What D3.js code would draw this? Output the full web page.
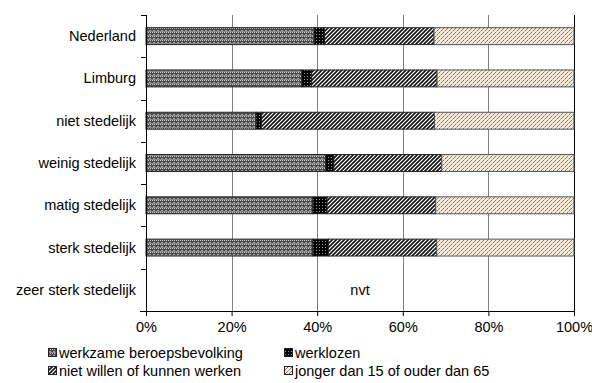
<!DOCTYPE html>
<html><head><meta charset="utf-8">
<script src="https://cdn.jsdelivr.net/npm/d3@7/dist/d3.min.js"></script>
<style>body{margin:0;background:#fff}svg{display:block}text{font-family:"Liberation Sans",Arial,sans-serif}</style>
</head><body><svg id="c" width="592" height="383"></svg>
<script>
const categories=["Nederland","Limburg","niet stedelijk","weinig stedelijk","matig stedelijk","sterk stedelijk","zeer sterk stedelijk"];
const seriesNames=["werkzame beroepsbevolking","werklozen","niet willen of kunnen werken","jonger dan 15 of ouder dan 65"];
const werkzame=[39.3,36.4,25.7,42.0,39.0,39.0,null];
const werklozen=[2.4,2.3,1.3,1.9,3.3,3.6,null];
const nietWillen=[25.6,29.3,40.4,25.2,25.4,25.3,null];
const jonger=[32.7,32.0,32.6,30.9,32.3,32.1,null];
const xTicks=[0,20,40,60,80,100];
const naLabel="nvt";

const FS=14.5;
const svg=d3.select("#c");
const m={l:146,r:18,t:15,b:72};
const W=592,H=383;
const x=d3.scaleLinear().domain([0,100]).range([m.l,W-m.r]);
const y=d3.scaleBand().domain(categories).range([m.t,H-m.b]).paddingInner(0.6).paddingOuter(0.3);
const yb=d3.scaleBand().domain(categories).range([m.t,H-m.b]);

const defs=svg.append("defs");
let p=defs.append("pattern").attr("id","p0").attr("patternUnits","userSpaceOnUse").attr("width",4).attr("height",4);
p.append("rect").attr("width",4).attr("height",4).attr("fill","#4a4a4a");
p.append("rect").attr("x",0).attr("y",0).attr("width",1).attr("height",1).attr("fill","#d0d0d0");
p.append("rect").attr("x",2).attr("y",0).attr("width",1).attr("height",1).attr("fill","#d0d0d0");
p.append("rect").attr("x",1).attr("y",2).attr("width",2).attr("height",1).attr("fill","#a0a0a0");
p.append("rect").attr("x",0).attr("y",3).attr("width",4).attr("height",1).attr("fill","#8a8a8a");
p=defs.append("pattern").attr("id","p1").attr("patternUnits","userSpaceOnUse").attr("width",3).attr("height",3);
p.append("rect").attr("width",3).attr("height",3).attr("fill","#000");
p.append("rect").attr("x",1).attr("y",1).attr("width",1).attr("height",1).attr("fill","#999");
p=defs.append("pattern").attr("id","p2").attr("patternUnits","userSpaceOnUse").attr("width",4).attr("height",4);
p.append("rect").attr("width",4).attr("height",4).attr("fill","#fff");
p.append("path").attr("d","M-1,5 L5,-1 M-1,1 L1,-1 M3,5 L5,3").attr("stroke","#111").attr("stroke-width",1.6);
p=defs.append("pattern").attr("id","p3").attr("patternUnits","userSpaceOnUse").attr("width",4).attr("height",4);
p.append("rect").attr("width",4).attr("height",4).attr("fill","#f2ebe2");
p.append("rect").attr("x",3).attr("y",0).attr("width",1).attr("height",1).attr("fill","#8c6a48");
p.append("rect").attr("x",2).attr("y",1).attr("width",1).attr("height",1).attr("fill","#a88662");
p.append("rect").attr("x",1).attr("y",2).attr("width",1).attr("height",1).attr("fill","#8c6a48");
p.append("rect").attr("x",0).attr("y",3).attr("width",1).attr("height",1).attr("fill","#c9b296");

// gridlines
svg.append("g").selectAll("line").data(xTicks.slice(1)).join("line")
 .attr("x1",d=>Math.round(x(d))+0.5).attr("x2",d=>Math.round(x(d))+0.5).attr("y1",m.t).attr("y2",H-m.b)
 .attr("stroke",d=>d===100?"#000":"#808080").attr("stroke-width",1);

// bars
const data=categories.map((c,i)=>({cat:c,werkzame:werkzame[i],werklozen:werklozen[i],nietWillen:nietWillen[i],jonger:jonger[i]}));
const keys=["werkzame","werklozen","nietWillen","jonger"];
const stacked=d3.stack().keys(keys).value((d,k)=>d[k]==null?0:d[k])(data);
stacked.forEach((s,si)=>{
  svg.append("g").selectAll("rect").data(s.filter(d=>d.data.werkzame!=null)).join("rect")
   .attr("x",d=>x(d[0])).attr("width",d=>x(d[1])-x(d[0]))
   .attr("y",d=>y(d.data.cat)).attr("height",y.bandwidth())
   .attr("fill",`url(#p${si})`).attr("stroke",si===3?"#555":"#222").attr("stroke-width",1);
});

// nvt label
data.filter(d=>d.werkzame==null).forEach(d=>{
  svg.append("text").attr("x",x(50)).attr("y",y(d.cat)+y.bandwidth()/2+5).attr("text-anchor","middle")
   .attr("font-size",FS).text(naLabel);
});

// axes
const ax=svg.append("g").attr("transform",`translate(0,${H-m.b})`)
 .call(d3.axisBottom(x).tickValues(xTicks).tickFormat(d=>d+"%").tickSize(5).tickPadding(6));
ax.select(".domain").remove();
ax.selectAll("line").attr("stroke","#000");
ax.selectAll("text").attr("font-size",FS).attr("fill","#000").style("font-family","Liberation Sans, Arial, sans-serif");
svg.append("line").attr("x1",m.l-6).attr("x2",x(100)).attr("y1",H-m.b+0.5).attr("y2",H-m.b+0.5).attr("stroke","#000");

svg.append("line").attr("x1",m.l+0.5).attr("x2",m.l+0.5).attr("y1",m.t).attr("y2",H-m.b).attr("stroke","#000");
svg.append("g").selectAll("line").data(categories).join("line")
 .attr("x1",m.l-5).attr("x2",m.l).attr("y1",d=>Math.round(yb(d))+0.5).attr("y2",d=>Math.round(yb(d))+0.5).attr("stroke","#000");
svg.append("g").selectAll("text").data(categories).join("text")
 .attr("x",m.l-10).attr("y",d=>yb(d)+yb.bandwidth()/2+5).attr("text-anchor","end").attr("font-size",FS).text(d=>d);

// legend
const lg=[{x:48,y:353},{x:284,y:353},{x:48,y:371},{x:284,y:371}];
seriesNames.forEach((n,i)=>{
  const g=svg.append("g").attr("transform",`translate(${lg[i].x},${lg[i].y})`);
  g.append("rect").attr("x",0.5).attr("y",-4.5).attr("width",8).attr("height",8).attr("fill",`url(#p${i})`).attr("stroke","#222");
  g.append("text").attr("x",11).attr("y",5).attr("font-size",FS).text(n);
});
</script></body></html>
